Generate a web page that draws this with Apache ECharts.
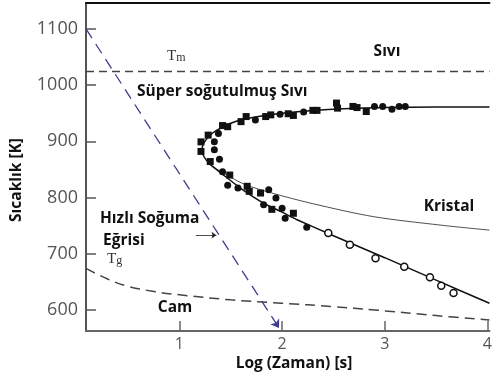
<!DOCTYPE html>
<html>
<head>
<meta charset="utf-8">
<script src="https://cdn.jsdelivr.net/npm/echarts@6/dist/echarts.min.js"></script>
<style>html,body{margin:0;padding:0;background:#fff}#c{width:495px;height:379px}</style>
</head>
<body>
<div id="c"></div>
<script>
// ---- data ----
var xTicks = [1, 2, 3, 4];
var yTicks = [600, 700, 800, 900, 1000, 1100];
var xRange = [0.09, 4.02];
var yRange = [562.6, 1146];

var tmLine = [[0.09, 1024], [4.02, 1024]];
var tgCurve = [[0.09, 674], [0.3, 655], [0.5, 642], [0.75, 633], [1.0, 627], [1.5, 618], [2.0, 612], [2.5, 606], [2.9, 600], [3.5, 590], [4.02, 582]];
var quickCooling = [[0.09, 1100], [1.97, 568]];
var labelArrow = [[1.16, 733], [1.36, 733]];

var cCurve = [[4.02, 961], [3.5, 961], [3.0, 960], [2.6, 958], [2.3, 955], [2.0, 950], [1.8, 945], [1.6, 938], [1.5, 932], [1.42, 925], [1.35, 918], [1.3, 911], [1.26, 903], [1.23, 894], [1.22, 885], [1.23, 876], [1.26, 867], [1.3, 859], [1.36, 850], [1.45, 837], [1.6, 816], [1.82, 790], [2.0, 774], [2.14, 761], [2.5, 732], [3.0, 693], [3.5, 653], [4.02, 612]];
var crystalLine = [[1.36, 851], [1.5, 836], [1.64, 823], [1.9, 808], [2.3, 789], [2.89, 766], [3.54, 751], [4.02, 742]];

var squares = [[1.89, 947], [2.06, 949], [2.11, 946], [2.30, 955], [2.34, 955], [2.53, 968], [2.54, 959], [2.69, 962], [2.73, 960], [2.82, 953],
  [1.65, 944], [1.84, 944], [1.60, 935], [1.47, 926], [1.42, 928], [1.28, 911], [1.21, 899], [1.21, 882], [1.30, 864], [1.49, 840],
  [1.66, 820], [1.68, 811], [1.79, 808], [1.90, 779], [2.11, 772]];
var circles = [[1.98, 948], [2.21, 952], [2.90, 962], [2.98, 962], [3.07, 957], [3.14, 962], [3.20, 962], [1.74, 938],
  [1.38, 914], [1.34, 899], [1.34, 885], [1.39, 868], [1.42, 846], [1.47, 822], [1.57, 817], [1.87, 814], [1.94, 799],
  [1.82, 787], [2.00, 781], [2.03, 763], [2.24, 747]];
var openCircles = [[2.45, 737], [2.66, 716], [2.91, 692], [3.19, 677], [3.44, 658], [3.55, 643], [3.67, 630]];

var xName = 'Log (Zaman) [s]';
var yName = 'Sıcaklık [K]';
var regionLabels = { sivi: 'Sıvı', super: 'Süper soğutulmuş Sıvı', kristal: 'Kristal', hizli1: 'Hızlı Soğuma', hizli2: 'Eğrisi', cam: 'Cam' };

// ---- chart ----
var chart = echarts.init(document.getElementById('c'), null, {renderer: 'canvas'});
var F = '"Open Sans", sans-serif';
function txt(x, y, t, opt) {
  return {type: 'text', x: x, y: y, style: Object.assign({text: t, font: 'bold 15.5px ' + F, fill: '#111', align: 'center', verticalAlign: 'middle'}, opt || {})};
}
function sub(x, y, a, b) {
  return {type: 'text', x: x, y: y, style: {text: '{a|' + a + '}{b|' + b + '}', verticalAlign: 'middle',
    rich: {a: {fontFamily: '"Liberation Serif", serif', fontSize: 15, fill: '#333'},
           b: {fontFamily: '"Liberation Serif", serif', fontSize: 12, fill: '#333', padding: [3, 0, 0, 0]}}}};
}
chart.setOption({
  animation: false,
  backgroundColor: '#fff',
  grid: {left: 86, right: 0, top: 3, bottom: 48},
  xAxis: [{
    type: 'value', min: xRange[0], max: xRange[1],
    axisLine: {show: true, lineStyle: {color: '#666', width: 2}},
    axisTick: {show: true, inside: true, length: 10, customValues: xTicks, lineStyle: {color: '#666', width: 1.5}},
    axisLabel: {customValues: xTicks, color: '#555', fontSize: 16, fontFamily: F, margin: 5},
    splitLine: {show: false}
  }, {
    type: 'value', position: 'top', min: xRange[0], max: xRange[1],
    axisLine: {show: true, lineStyle: {color: '#111', width: 2}},
    axisTick: {show: false}, axisLabel: {show: false}, splitLine: {show: false}
  }],
  yAxis: {
    type: 'value', min: yRange[0], max: yRange[1],
    axisLine: {show: true, lineStyle: {color: '#555', width: 2}},
    axisTick: {show: true, inside: true, length: 10, customValues: yTicks, lineStyle: {color: '#555', width: 1.5}},
    axisLabel: {customValues: yTicks, color: '#555', fontSize: 18, fontFamily: F, margin: 8, formatter: function (v) { return String(v); }},
    splitLine: {show: false}
  },
  series: [
    {type: 'line', data: tmLine, symbol: 'none', lineStyle: {color: '#444', width: 1.5, type: [8, 5]}, z: 2},
    {type: 'line', data: tgCurve, symbol: 'none', smooth: 0.4, lineStyle: {color: '#444', width: 1.5, type: [10, 6]}, z: 2},
    {type: 'lines', coordinateSystem: 'cartesian2d', symbol: ['none', 'arrow'], symbolSize: 8,
      data: [{coords: quickCooling}], lineStyle: {color: '#3d3d8f', width: 1.3, type: [11, 7], opacity: 1}, z: 3},
    {type: 'lines', coordinateSystem: 'cartesian2d', symbol: ['none', 'arrow'], symbolSize: 5,
      data: [{coords: labelArrow}], lineStyle: {color: '#222', width: 0.8, opacity: 1}, z: 3},
    {type: 'line', data: cCurve, symbol: 'none', smooth: 0.15, lineStyle: {color: '#111', width: 1.5}, z: 3},
    {type: 'line', data: crystalLine, symbol: 'none', smooth: 0.3, lineStyle: {color: '#222', width: 0.8}, z: 3},
    {type: 'scatter', data: squares, symbol: 'rect', symbolSize: 7, itemStyle: {color: '#111', opacity: 1}, z: 4},
    {type: 'scatter', data: circles, symbol: 'circle', symbolSize: 7, itemStyle: {color: '#111', opacity: 1}, z: 4},
    {type: 'scatter', data: openCircles, symbol: 'circle', symbolSize: 7, itemStyle: {color: '#fff', borderColor: '#111', borderWidth: 1.5, opacity: 1}, z: 4}
  ],
  graphic: [
    txt(387, 52, regionLabels.sivi),
    txt(137, 92, regionLabels.super, {align: 'left'}),
    txt(449, 207, regionLabels.kristal),
    txt(100, 219, regionLabels.hizli1, {align: 'left'}),
    txt(103, 241, regionLabels.hizli2, {align: 'left'}),
    txt(175, 308, regionLabels.cam),
    sub(167, 56, 'T', 'm'),
    sub(107, 259, 'T', 'g'),
    txt(294, 364, xName),
    {type: 'text', x: 17, y: 180, rotation: Math.PI / 2, style: {text: yName, font: 'bold 15.5px ' + F, fill: '#111', align: 'center', verticalAlign: 'middle'}}
  ]
});
</script>
</body>
</html>
